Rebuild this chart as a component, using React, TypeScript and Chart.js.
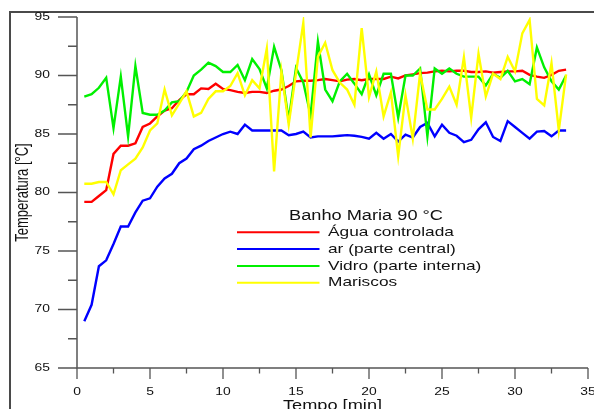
import { useEffect, useRef } from 'react';
import { Chart, registerables } from 'chart.js';

Chart.register(...registerables);

// ---- data ----
const times = [
  0.5, 1, 1.5, 2, 2.5, 3, 3.5, 4, 4.5, 5,
  5.5, 6, 6.5, 7, 7.5, 8, 8.5, 9, 9.5, 10,
  10.5, 11, 11.5, 12, 12.5, 13, 13.5, 14, 14.5, 15,
  15.5, 16, 16.5, 17, 17.5, 18, 18.5, 19, 19.5, 20,
  20.5, 21, 21.5, 22, 22.5, 23, 23.5, 24, 24.5, 25,
  25.5, 26, 26.5, 27, 27.5, 28, 28.5, 29, 29.5, 30,
  30.5, 31, 31.5, 32, 32.5, 33, 33.5,
];

const aguaControlada = [
  79.2, 79.2, 79.7, 80.2, 83.3, 84.0, 84.0, 84.2, 85.6, 85.9,
  86.5, 87.0, 87.2, 87.9, 88.4, 88.4, 88.9, 88.85, 89.3, 88.85,
  88.75, 88.6, 88.5, 88.6, 88.6, 88.5, 88.7, 88.8, 89.1, 89.5,
  89.55, 89.55, 89.6, 89.7, 89.6, 89.5, 89.65, 89.7, 89.6, 89.7,
  89.7, 89.7, 89.9, 89.75, 90.0, 90.1, 90.2, 90.25, 90.35, 90.4,
  90.35, 90.4, 90.4, 90.3, 90.3, 90.35, 90.25, 90.3, 90.35, 90.35,
  90.4, 90.05, 89.9, 89.8, 90.05, 90.4, 90.5,
];

const arParteCentral = [
  69.0, 70.4, 73.7, 74.2, 75.6, 77.1, 77.1, 78.3, 79.3, 79.5,
  80.5, 81.2, 81.6, 82.5, 82.9, 83.7, 84.0, 84.4, 84.7, 85.0,
  85.2, 85.0, 85.8, 85.3, 85.3, 85.3, 85.3, 85.3, 84.9, 85.0,
  85.2, 84.7, 84.8, 84.8, 84.8, 84.85, 84.9, 84.85, 84.75, 84.6,
  85.1, 84.6, 85.0, 84.35, 84.95, 84.7, 85.6, 85.95, 84.8, 85.8,
  85.1, 84.85, 84.3, 84.5, 85.4, 86.0, 84.75, 84.4, 86.1, 85.6,
  85.1, 84.6, 85.2, 85.25, 84.8, 85.3, 85.3,
];

const vidroParteInterna = [
  88.2, 88.4, 88.95, 89.8, 85.5, 89.9, 84.8, 90.8, 86.8, 86.65,
  86.65, 87.0, 87.7, 87.8, 88.6, 90.0, 90.5, 91.1, 90.8, 90.3,
  90.3, 90.9, 89.6, 91.4, 90.55, 88.9, 92.45, 90.45, 86.2, 90.65,
  89.4, 86.6, 92.9, 88.8, 87.8, 89.5, 90.15, 89.3, 88.4, 90.1,
  88.3, 90.15, 90.15, 86.4, 90.0, 90.0, 90.6, 84.8, 90.6, 90.15,
  90.6, 90.15, 89.9, 89.9, 89.9, 89.15, 90.15, 89.8, 90.4, 89.5,
  89.7, 89.25, 92.4, 90.7, 89.5, 88.8, 90.0,
];

const mariscos = [
  80.75, 80.75, 80.9, 80.9, 79.85, 81.9, 82.4, 82.9, 83.85, 85.3,
  85.9, 88.8, 86.6, 87.6, 88.65, 86.5, 86.8, 88.0, 88.65, 88.65,
  89.1, 90.2, 88.3, 89.6, 88.9, 92.3, 81.8, 90.35, 85.8, 90.2,
  94.5, 84.7, 91.6, 92.8, 90.45, 89.4, 88.8, 87.5, 94.05, 88.15,
  90.35, 86.5, 88.55, 83.1, 88.3, 84.6, 90.2, 87.1, 87.1, 88.0,
  89.05, 87.5, 91.55, 86.4, 91.85, 88.2, 90.15, 89.7, 91.6, 90.35,
  93.6, 94.75, 88.0, 87.45, 91.05, 85.3, 90.1,
];

const seriesLabels = ['Água controlada', 'ar (parte central)', 'Vidro (parte interna)', 'Mariscos'];
const xTicks = [0, 5, 10, 15, 20, 25, 30, 35];
const xMinorTicks = [2.5, 7.5, 12.5, 17.5, 22.5, 27.5, 32.5];
const yTicks = [65, 70, 75, 80, 85, 90, 95];
const yMinorTicks = [67.5, 72.5, 77.5, 82.5, 87.5, 92.5];
const legendTitle = 'Banho Maria 90 °C';
const xTitle = 'Tempo [min]';
const yTitle = 'Temperatura [°C]';

const FONT = "'Liberation Sans', Arial, sans-serif";
const TEXT = '#111111';
const AXIS = '#555555';

function stretchedText(
  ctx: CanvasRenderingContext2D,
  text: string,
  x: number,
  y: number,
  align: 'left' | 'center' | 'right',
  size: number,
  k: number,
  baseline: CanvasTextBaseline = 'middle',
) {
  ctx.save();
  ctx.font = `${size}px ${FONT}`;
  ctx.fillStyle = TEXT;
  ctx.textBaseline = baseline;
  ctx.textAlign = 'left';
  const w = ctx.measureText(text).width * k;
  const left = align === 'center' ? x - w / 2 : align === 'right' ? x - w : x;
  ctx.translate(left, y);
  ctx.scale(k, 1);
  ctx.fillText(text, 0, 0);
  ctx.restore();
}

const decorPlugin = {
  id: 'decor',
  afterDraw(chart: any) {
    const ctx: CanvasRenderingContext2D = chart.ctx;
    const { left, right, top, bottom } = chart.chartArea;
    const xs = chart.scales.x;
    const ys = chart.scales.y;
    const W = chart.width;
    const H = chart.height;

    ctx.save();
    // outer frame (cropped)
    ctx.fillStyle = '#4a4a4a';
    ctx.fillRect(9, 11, W - 9, 2);
    ctx.fillRect(9, 11, 2, H - 11);

    // axis lines
    ctx.strokeStyle = AXIS;
    ctx.lineWidth = 1.5;
    ctx.beginPath();
    ctx.moveTo(left, top);
    ctx.lineTo(left, bottom);
    ctx.lineTo(right, bottom);
    ctx.stroke();

    // ticks
    ctx.lineWidth = 1.3;
    ctx.beginPath();
    yTicks.forEach((v) => {
      const p = ys.getPixelForValue(v);
      ctx.moveTo(left - 19, p);
      ctx.lineTo(left, p);
    });
    yMinorTicks.forEach((v) => {
      const p = ys.getPixelForValue(v);
      ctx.moveTo(left - 9, p);
      ctx.lineTo(left, p);
    });
    xTicks.forEach((v) => {
      const p = xs.getPixelForValue(v);
      ctx.moveTo(p, bottom);
      ctx.lineTo(p, bottom + 11);
    });
    xMinorTicks.forEach((v) => {
      const p = xs.getPixelForValue(v);
      ctx.moveTo(p, bottom);
      ctx.lineTo(p, bottom + 5.5);
    });
    ctx.stroke();
    ctx.restore();

    // tick labels
    yTicks.forEach((v) => {
      stretchedText(ctx, String(v), left - 27, ys.getPixelForValue(v), 'right', 10.5, 1.32);
    });
    xTicks.forEach((v) => {
      stretchedText(ctx, String(v), xs.getPixelForValue(v), bottom + 24, 'center', 10.5, 1.32);
    });

    // axis titles
    stretchedText(ctx, xTitle, (left + right) / 2, H + 0.5, 'center', 14, 1.3, 'alphabetic');
    ctx.save();
    ctx.font = `13px ${FONT}`;
    ctx.fillStyle = TEXT;
    ctx.textAlign = 'center';
    ctx.textBaseline = 'middle';
    ctx.translate(22.5, (top + bottom) / 2);
    ctx.scale(1.4, 1);
    ctx.rotate(-Math.PI / 2);
    ctx.fillText(yTitle, 0, 0);
    ctx.restore();

    // legend
    stretchedText(ctx, legendTitle, 366, 216, 'center', 14, 1.3);
    chart.data.datasets.forEach((ds: any, i: number) => {
      const y = 232.3 + i * 16.8;
      ctx.save();
      ctx.strokeStyle = ds.borderColor;
      ctx.lineWidth = 2;
      ctx.beginPath();
      ctx.moveTo(237, y);
      ctx.lineTo(319.5, y);
      ctx.stroke();
      ctx.restore();
      stretchedText(ctx, ds.label, 328, y, 'left', 13.5, 1.28);
    });
  },
};

export default function App() {
  const ref = useRef<HTMLCanvasElement | null>(null);

  useEffect(() => {
    if (!ref.current) return;
    const series = [aguaControlada, arParteCentral, vidroParteInterna, mariscos];
    const colors = ['#ff0000', '#0000ff', '#00f000', '#ffff00'];
    const orders = [3, 2, 1, 0];
    const chart = new Chart(ref.current, {
      type: 'line',
      data: {
        datasets: series.map((vals, i) => ({
          label: seriesLabels[i],
          data: times.map((t, j) => ({ x: t, y: vals[j] })),
          borderColor: colors[i],
          backgroundColor: colors[i],
          borderWidth: 2.4,
          pointRadius: 0,
          tension: 0,
          fill: false,
          order: orders[i],
        })),
      },
      options: {
        animation: false,
        responsive: false,
        devicePixelRatio: 1,
        layout: { padding: { left: 77, right: 6, top: 17, bottom: 41 } },
        plugins: { legend: { display: false }, tooltip: { enabled: false } },
        scales: {
          x: { type: 'linear', min: 0, max: 35, display: false },
          y: { type: 'linear', min: 65, max: 95, display: false },
        },
      },
      plugins: [decorPlugin],
    } as any);
    return () => chart.destroy();
  }, []);

  return (
    <div style={{ position: 'absolute', left: 0, top: 0, width: 594, height: 409, background: '#fff' }}>
      <canvas ref={ref} width={594} height={409} />
    </div>
  );
}
